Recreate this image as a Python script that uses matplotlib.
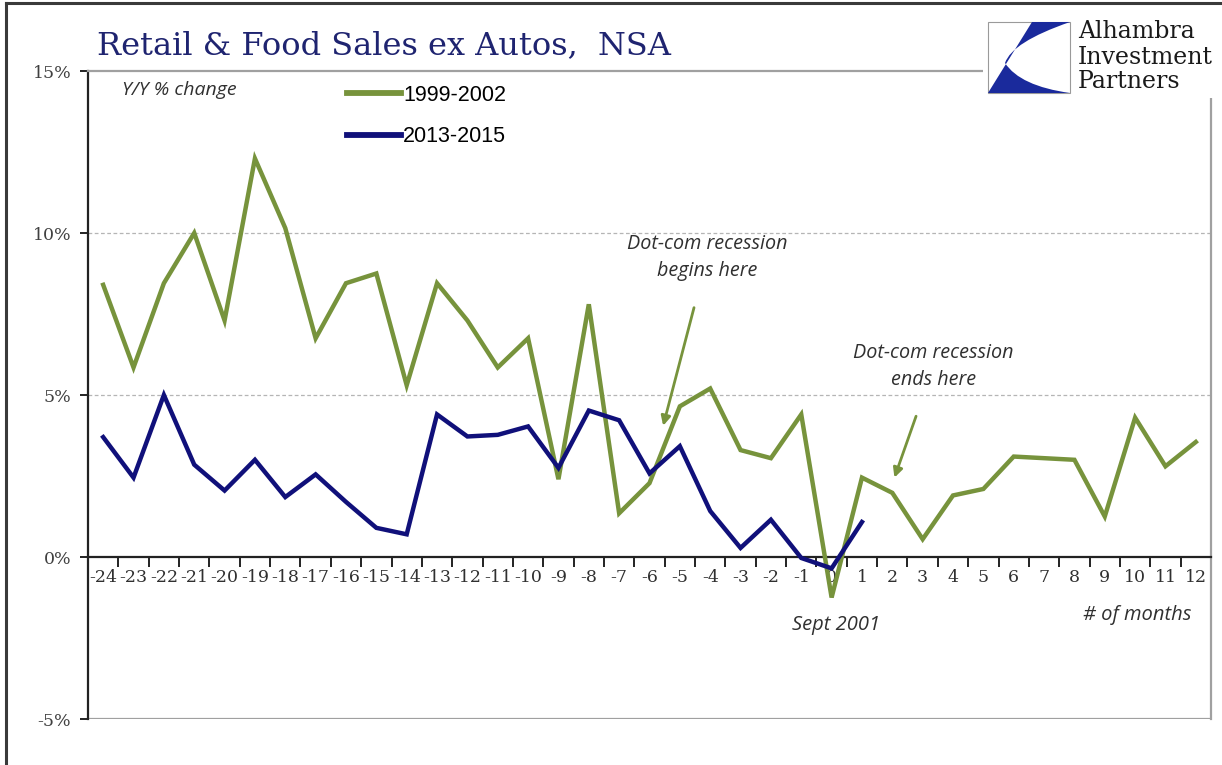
import matplotlib
matplotlib.use("Agg")
import matplotlib.pyplot as plt
from matplotlib.lines import Line2D
from matplotlib.patches import Rectangle, PathPatch
from matplotlib.path import Path

# ---------------- data ----------------
months = list(range(-24, 13))
green_1999_2002 = [8.4, 5.85, 8.45, 10.0, 7.3, 12.3, 10.15, 6.75, 8.45, 8.75, 5.3, 8.45,
                   7.3, 5.85, 6.75, 2.4, 7.8, 1.35, 2.28, 4.65, 5.2, 3.3, 3.05, 4.4,
                   -1.25, 2.45, 1.98, 0.55, 1.9, 2.1, 3.1, 3.05, 3.0, 1.25, 4.3, 2.8, 3.55]
months_blue = list(range(-24, 2))
blue_2013_2015 = [3.7, 2.45, 5.0, 2.85, 2.05, 3.0, 1.85, 2.55, 1.7, 0.9, 0.7, 4.4,
                  3.72, 3.77, 4.03, 2.75, 4.52, 4.22, 2.58, 3.42, 1.42, 0.28, 1.15,
                  -0.03, -0.35, 1.08]
yticks = [-5, 0, 5, 10, 15]
ytick_labels = ["-5%", "0%", "5%", "10%", "15%"]
title = "Retail & Food Sales ex Autos,  NSA"
series_names = ["1999-2002", "2013-2015"]

GREEN = "#77933C"
NAVY = "#10107a"
W, H = 1222, 765

fig = plt.figure(figsize=(W / 100, H / 100), dpi=100)
fig.patch.set_facecolor("white")

def fx(px):
    return px / W

def fy(py):
    return 1 - py / H

# plot area
L, R, T, B = 88, 1211, 71, 719
ax = fig.add_axes([fx(L), fy(B), fx(R) - fx(L), fy(T) - fy(B)])
ax.set_xlim(-24.5, 12.5)
ax.set_ylim(-5, 15)

ax.plot(months, green_1999_2002, color=GREEN, lw=3.2, solid_joinstyle="miter", zorder=3,
        label=series_names[0])
ax.plot(months_blue, blue_2013_2015, color=NAVY, lw=3.2, solid_joinstyle="miter", zorder=4,
        label=series_names[1])

# gridlines
for g in [5, 10]:
    ax.axhline(g, color="#b5b5b5", lw=0.9, ls=(0, (3, 2)), zorder=1)

# spines
for s in ["top", "right"]:
    ax.spines[s].set_color("#a0a0a0")
    ax.spines[s].set_linewidth(1.6)
ax.spines["left"].set_color("#222222")
ax.spines["left"].set_linewidth(1.6)
ax.spines["bottom"].set_position(("data", 0))
ax.spines["bottom"].set_color("#222222")
ax.spines["bottom"].set_linewidth(1.6)
ax.axhline(-5, color="#a0a0a0", lw=1.6, zorder=2)

# y ticks
ax.set_yticks(yticks)
ax.set_yticklabels(ytick_labels, fontfamily="DejaVu Serif", fontsize=12.5, color="#404040")
ax.tick_params(axis="y", direction="out", length=6, width=1.4, color="#222222", pad=6)

# x ticks: labels at integers, tick marks between categories
ax.set_xticks(months)
ax.set_xticklabels([str(m) for m in months], fontfamily="DejaVu Serif", fontsize=12.5,
                   color="#303030")
ax.tick_params(axis="x", which="major", length=0, pad=9)
ax.set_xticks([m + 0.5 for m in months[:-1]], minor=True)
ax.tick_params(axis="x", which="minor", direction="out", length=7, width=1.4, color="#222222")

# legend
leg = ax.legend(loc="upper left", bbox_to_anchor=((347 - L) / (R - L), (B - 85) / (B - T)),
                frameon=False, prop={"family": "Liberation Sans", "size": 15.5},
                handlelength=2.5, handletextpad=0.1, labelspacing=0.95,
                borderpad=0, borderaxespad=0)
for line in leg.get_lines():
    line.set_linewidth(4.2)

italic = dict(fontfamily="Open Sans", style="italic", color="#303030")
ax.text((122 - L) / (R - L), (B - 90) / (B - T), "Y/Y % change", transform=ax.transAxes,
        ha="left", va="center", fontsize=14, **italic)

ax.annotate("Dot-com recession\nbegins here", xy=(-5.55, 4.05), xytext=(-4.1, 9.25),
            ha="center", va="center", fontsize=14.2, linespacing=1.45, **italic,
            arrowprops=dict(arrowstyle="-|>", color=GREEN, lw=2, shrinkA=18, shrinkB=0,
                            mutation_scale=14))
ax.annotate("Dot-com recession\nends here", xy=(2.07, 2.45), xytext=(3.36, 5.88),
            ha="center", va="center", fontsize=14.2, linespacing=1.45, **italic,
            arrowprops=dict(arrowstyle="-|>", color=GREEN, lw=2, shrinkA=18, shrinkB=0,
                            mutation_scale=14))
ax.text(0.16, -2.1, "Sept 2001", ha="center", va="center", fontsize=14.5, **italic)
ax.text(10.06, -1.8, "# of months", ha="center", va="center", fontsize=14.5, **italic)

# title
fig.text(fx(97), fy(46), title, ha="left", va="center", fontfamily="DejaVu Serif",
         fontsize=23, color="#1f2470")

# logo: white background covering the plot border
fig.add_artist(Rectangle((fx(983), fy(98)), fx(W) - fx(983), fy(6) - fy(98),
                         transform=fig.transFigure, facecolor="white", edgecolor="none",
                         zorder=5))
fig.add_artist(Rectangle((fx(988), fy(93)), fx(1070) - fx(988), fy(22) - fy(93),
                         transform=fig.transFigure, facecolor="white", edgecolor="#9a9a9a",
                         lw=0.8, zorder=6))
verts_px = [(1032, 22), (1070, 22), (1012, 42), (1005, 63), (1020, 86), (1070, 93),
            (988, 93), (1032, 22)]
codes = [Path.MOVETO, Path.LINETO, Path.CURVE3, Path.CURVE3, Path.CURVE3, Path.CURVE3,
         Path.LINETO, Path.CLOSEPOLY]
logo_path = Path([(fx(x), fy(y)) for x, y in verts_px], codes)
fig.add_artist(PathPatch(logo_path, transform=fig.transFigure, facecolor="#1a2a9c",
                         edgecolor="none", zorder=7))
for i, word in enumerate(["Alhambra", "Investment", "Partners"]):
    fig.text(fx(1078), fy(32 + 25 * i), word, ha="left", va="center",
             fontfamily="DejaVu Serif", fontsize=17, color="#1a1a1a", zorder=8)

# outer frame (top and left)
fig.add_artist(Line2D([fx(6), fx(6)], [fy(3), 0], transform=fig.transFigure,
                      color="#3a3a3a", lw=2.2))
fig.add_artist(Line2D([fx(6), 1], [fy(3), fy(3)], transform=fig.transFigure,
                      color="#3a3a3a", lw=2.2))

fig.savefig("out.png", dpi=100)
